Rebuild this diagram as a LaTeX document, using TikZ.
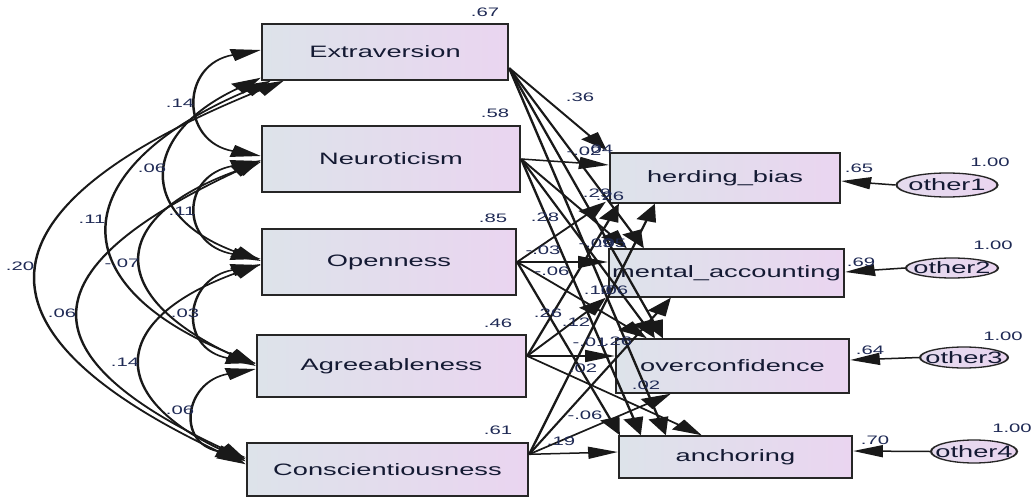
\documentclass[tikz,border=0pt]{standalone}
\usepackage{fontspec}
\setmainfont{Liberation Sans}
\usetikzlibrary{arrows.meta,shapes.geometric,calc}
\definecolor{boxL}{HTML}{DDE3EA}
\definecolor{boxR}{HTML}{EAD5F0}
\definecolor{ink}{HTML}{141A33}
\definecolor{lab}{HTML}{1F2A55}
\tikzset{
  var/.style={draw=black!85, line width=1.4pt, left color=boxL, right color=boxR,
    font=\fontsize{16.5}{18}\selectfont, text=ink, inner sep=0pt},
  errv/.style={ellipse, draw=black!85, line width=1.3pt, left color=boxL!40!boxR, right color=boxR, inner sep=0pt},
  errt/.style={font=\fontsize{16.5}{18}\selectfont, text=ink, inner sep=0pt},
  lbl/.style={font=\fontsize{12.3}{13}\selectfont, text=lab, inner sep=0pt},
  pth/.style={line width=1.5pt, draw=black!90, -{Triangle[length=18pt,width=12pt]}},
  cov/.style={line width=1.5pt, draw=black!90, {Triangle[length=18pt,width=12pt]}-{Triangle[length=18pt,width=12pt]}}
}
\begin{document}
\begin{tikzpicture}[x=1pt,y=1pt]
\useasboundingbox (0,0) rectangle (1033,-497);
\fill[white] (0,0) rectangle (1033,-497);
\begin{scope}[transform canvas={xscale=1.65}, x=0.606061pt, y=1pt]
% exogenous boxes
\node[var, minimum width=149.09pt, minimum height=56pt] (E) at (385,-52) {Extraversion};
\node[var, minimum width=156.36pt, minimum height=66pt] (N) at (391,-159) {Neuroticism};
\node[var, minimum width=153.94pt, minimum height=66pt] (O) at (389,-262) {Openness};
\node[var, minimum width=163.03pt, minimum height=62pt] (A) at (391.5,-366) {Agreeableness};
\node[var, minimum width=170.30pt, minimum height=53pt] (C) at (387.5,-469.5) {Conscientiousness};
% endogenous boxes
\node[var, minimum width=139.39pt, minimum height=50pt] (H) at (725,-178) {herding\_bias};
\node[var, minimum width=142.42pt, minimum height=48pt] (M) at (726.5,-273) {mental\_accounting};
\node[var, minimum width=141.21pt, minimum height=54pt] (OC) at (732.5,-366) {overconfidence};
\node[var, minimum width=141.21pt, minimum height=42pt] (AN) at (735.5,-457) {anchoring};
% error ellipses
\node[errv, minimum width=61.2pt, minimum height=24pt] (o1) at (947,-185) {};
\node[errv, minimum width=55.8pt, minimum height=20pt] (o2) at (952,-268) {};
\node[errv, minimum width=53.3pt, minimum height=21pt] (o3) at (964,-357.5) {};
\node[errv, minimum width=52.1pt, minimum height=23pt] (o4) at (974,-451.5) {};
\node[errt] (o1t) at (o1) {other1};
\node[errt] (o2t) at (o2) {other2};
\node[errt] (o3t) at (o3) {other3};
\node[errt] (o4t) at (o4) {other4};
% error arrows
\draw[pth] (o1.west) -- ($(H.east)+(0,-3)$);
\draw[pth] (o2.west) -- ($(M.east)+(0,1)$);
\draw[pth] (o3.west) -- ($(OC.east)+(0,6)$);
\draw[pth] (o4.west) -- ($(AN.east)+(0,6)$);
% covariances
\draw[cov] ($(E.west)+(0,2)$) .. controls +(190:82) and +(170:82) .. ($(N.west)+(0,3)$);
\draw[cov] ($(N.west)+(0,-2)$) .. controls +(190:82) and +(170:82) .. ($(O.west)+(0,3)$);
\draw[cov] ($(O.west)+(0,-3)$) .. controls +(190:79) and +(170:79) .. ($(A.west)+(0,3)$);
\draw[cov] ($(A.west)+(0,-3)$) .. controls +(190:72) and +(168:72) .. ($(C.north west)+(0,-15)$);
\draw[cov] ($(E.south west)+(0,3)$) .. controls +(205:133) and +(160:133) .. ($(O.west)+(0,1)$);
\draw[cov] ($(N.west)+(0,-3)$) .. controls +(200:165) and +(155:165) .. (A.west);
\draw[cov] ($(O.west)+(0,-2)$) .. controls +(200:158) and +(155:158) .. ($(C.north west)+(0,-19)$);
\draw[cov] ($(E.south west)+(10,0)$) .. controls +(203:219) and +(158:219) .. ($(A.west)+(0,2)$);
\draw[cov] ($(N.west)+(0,-1)$) .. controls +(205:252) and +(155:252) .. ($(C.north west)+(0,-17)$);
\draw[cov] ($(E.south west)+(23,0)$) .. controls +(202:326) and +(155:326) .. ($(C.north west)+(0,-22)$);
% source points
\coordinate (sE) at ($(E.east)+(0,-16)$);
\coordinate (sA) at ($(A.east)+(0,10)$);
\coordinate (sC) at ($(C.north east)+(0,-12)$);
% paths from Extraversion
\draw[pth] (sE) -- ($(H.north west)+(-2,2)$);
\draw[pth] (sE) -- ($(M.north west)+(36,0)$);
\draw[pth] (sE) -- ($(OC.north west)+(48,0)$);
\draw[pth] (sE) -- ($(AN.north west)+(48,0)$);
% paths from Neuroticism
\draw[pth] (N.east) -- ($(H.west)+(0,13)$);
\draw[pth] (N.east) -- ($(M.north west)+(19,0)$);
\draw[pth] (N.east) -- ($(OC.north west)+(40,0)$);
\draw[pth] (N.east) -- ($(AN.north west)+(23,0)$);
% paths from Openness
\draw[pth] (O.east) -- ($(H.south west)+(-3,2)$);
\draw[pth] (O.east) -- ($(M.west)+(0,11)$);
\draw[pth] (O.east) -- ($(OC.north west)+(32,0)$);
\draw[pth] (O.east) -- ($(AN.north west)+(2,0)$);
% paths from Agreeableness
\draw[pth] (sA) -- ($(H.south west)+(10,0)$);
\draw[pth] (sA) -- ($(M.south west)+(-2,0)$);
\draw[pth] (sA) -- ($(OC.west)+(0,10)$);
\draw[pth] (sA) -- ($(AN.north west)+(84,0)$);
% paths from Conscientiousness
\draw[pth] (sC) -- ($(H.south west)+(46,0)$);
\draw[pth] (sC) -- ($(M.south west)+(63,0)$);
\draw[pth] (sC) -- ($(OC.south west)+(56,0)$);
\draw[pth] (sC) -- ($(AN.west)+(0,5)$);
% variance labels of boxes
\node[lbl] (vE) at (485,-12) {.67};
\node[lbl] (vN) at (495,-113) {.58};
\node[lbl] (vO) at (493,-218) {.85};
\node[lbl] (vA) at (498,-323) {.46};
\node[lbl] (vC) at (498,-430) {.61};
% error labels
\node[lbl] (e1) at (859,-168) {.65};
\node[lbl] (e2) at (861,-262) {.69};
\node[lbl] (e3) at (870,-350) {.64};
\node[lbl] (e4) at (875,-440) {.70};
\node[lbl] (u1) at (990,-162) {1.00};
\node[lbl] (u2) at (993,-245) {1.00};
\node[lbl] (u3) at (1003,-336) {1.00};
\node[lbl] (u4) at (1012,-428) {1.00};
% covariance labels
\node[lbl] (c1) at (180,-103) {.14};
\node[lbl] (c2) at (152,-168) {.06};
\node[lbl] (c3) at (92,-219) {.11};
\node[lbl] (c4) at (20,-266) {.20};
\node[lbl] (c5) at (182,-211) {.11};
\node[lbl] (c6) at (122,-263) {-.07};
\node[lbl] (c7) at (62,-313) {.06};
\node[lbl] (c8) at (185,-313) {.03};
\node[lbl] (c9) at (125,-362) {.14};
\node[lbl] (c10) at (180,-410) {.06};
% path labels
\node[lbl] (p1) at (580,-97) {.36};
\node[lbl] (p2) at (584,-151) {-.02};
\node[lbl] (p3) at (599,-149) {.04};
\node[lbl] (p4) at (597,-193) {.29};
\node[lbl] (p5) at (610,-196) {.26};
\node[lbl] (p6) at (545,-217) {.28};
\node[lbl] (p7) at (543,-250) {-.03};
\node[lbl] (p8) at (552,-271) {-.06};
\node[lbl] (p9) at (596,-243) {-.09};
\node[lbl] (p10) at (612,-243) {.05};
\node[lbl] (p11) at (598,-290) {.10};
\node[lbl] (p12) at (614,-290) {.06};
\node[lbl] (p13) at (548,-313) {.26};
\node[lbl] (p14) at (576,-322) {.12};
\node[lbl] (p15) at (590,-342) {-.01};
\node[lbl] (p16) at (618,-341) {.26};
\node[lbl] (p17) at (583,-368) {.02};
\node[lbl] (p18) at (646,-385) {.02};
\node[lbl] (p19) at (585,-415) {-.06};
\node[lbl] (p20) at (561,-441) {.19};
\end{scope}
\end{tikzpicture}
\end{document}
